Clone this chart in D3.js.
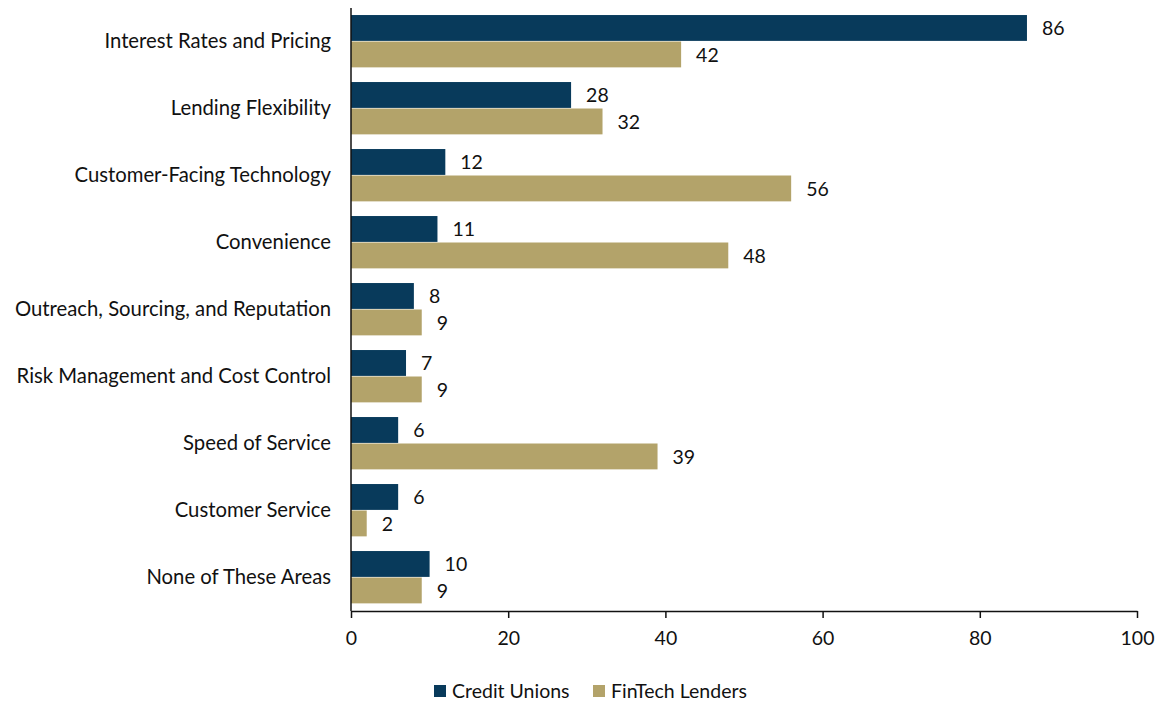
<!DOCTYPE html>
<html>
<head>
<meta charset="utf-8">
<script src="https://cdn.jsdelivr.net/npm/d3@7"></script>
<style>
  html, body { margin: 0; padding: 0; background: #fff; }
  svg { display: block; font-family: "Lato", "Noto Sans", sans-serif; }
</style>
</head>
<body>
<svg id="chart" width="1155" height="703"></svg>
<script>
// Share of respondents citing each area (percent)
const categories = [
  "Interest Rates and Pricing",
  "Lending Flexibility",
  "Customer-Facing Technology",
  "Convenience",
  "Outreach, Sourcing, and Reputation",
  "Risk Management and Cost Control",
  "Speed of Service",
  "Customer Service",
  "None of These Areas"
];
const creditUnions = [86, 28, 12, 11, 8, 7, 6, 6, 10];
const fintechLenders = [42, 32, 56, 48, 9, 9, 39, 2, 9];
const seriesNames = ["Credit Unions", "FinTech Lenders"];
const seriesColors = ["#083a5b", "#b3a36a"];
const xTicks = [0, 20, 40, 60, 80, 100];

const svg = d3.select("#chart");
const margin = { left: 351, right: 18, top: 8, bottom: 92 };
const W = 1155, H = 703;
const FS = 19.5;

const x = d3.scaleLinear().domain([0, 100]).range([margin.left, W - margin.right]);
const y = d3.scaleBand().domain(categories).range([margin.top, H - margin.bottom]).paddingInner(0.21).paddingOuter(0.105);
const ySub = d3.scaleBand().domain(seriesNames).range([0, y.bandwidth()]).padding(0);

const rows = categories.map((c, i) => ({ cat: c, vals: [creditUnions[i], fintechLenders[i]] }));

const g = svg.append("g");
const groups = g.selectAll("g.cat").data(rows).join("g")
  .attr("class", "cat")
  .attr("transform", d => `translate(0,${y(d.cat)})`);

groups.selectAll("rect").data(d => d.vals.map((v, k) => ({ v, k }))).join("rect")
  .attr("x", x(0))
  .attr("y", d => ySub(seriesNames[d.k]))
  .attr("width", d => x(d.v) - x(0))
  .attr("height", ySub.bandwidth() - 0.6)
  .attr("fill", d => seriesColors[d.k]);

groups.selectAll("text.val").data(d => d.vals.map((v, k) => ({ v, k }))).join("text")
  .attr("class", "val")
  .attr("x", d => x(d.v) + 15)
  .attr("y", d => ySub(seriesNames[d.k]) + ySub.bandwidth() / 2)
  .attr("dy", "0.35em")
  .attr("font-size", FS)
  .attr("fill", "#111")
  .text(d => d.v);

// Category axis
const yAxis = svg.append("g")
  .attr("transform", `translate(${x(0)},0)`)
  .call(d3.axisLeft(y).tickSize(0).tickPadding(20))
  .attr("font-family", null).attr("font-size", 20.3);
yAxis.select(".domain").attr("stroke", "#111").attr("stroke-width", 1.5)
  .attr("d", `M0,${margin.top}V${H - margin.bottom}`);
yAxis.selectAll("text").attr("fill", "#111");

// Value axis
const xAxis = svg.append("g")
  .attr("transform", `translate(0,${H - margin.bottom})`)
  .call(d3.axisBottom(x).tickValues(xTicks).tickSize(7).tickSizeOuter(0).tickPadding(13))
  .attr("font-family", null).attr("font-size", FS);
xAxis.select(".domain").attr("stroke", "#111").attr("stroke-width", 1.5);
xAxis.selectAll(".tick line").attr("stroke", "#111").attr("stroke-width", 1.5);
xAxis.selectAll("text").attr("fill", "#111");

// Legend
const legend = svg.append("g").attr("transform", "translate(434,691)");
const legendX = [0, 159];
seriesNames.forEach((name, k) => {
  const lg = legend.append("g").attr("transform", `translate(${legendX[k]},0)`);
  lg.append("rect").attr("x", 0).attr("y", -6).attr("width", 12).attr("height", 12).attr("fill", seriesColors[k]);
  lg.append("text").attr("x", 18).attr("y", 0).attr("dy", "0.35em")
    .attr("font-size", FS).attr("fill", "#111").text(name);
});
</script>
</body>
</html>
